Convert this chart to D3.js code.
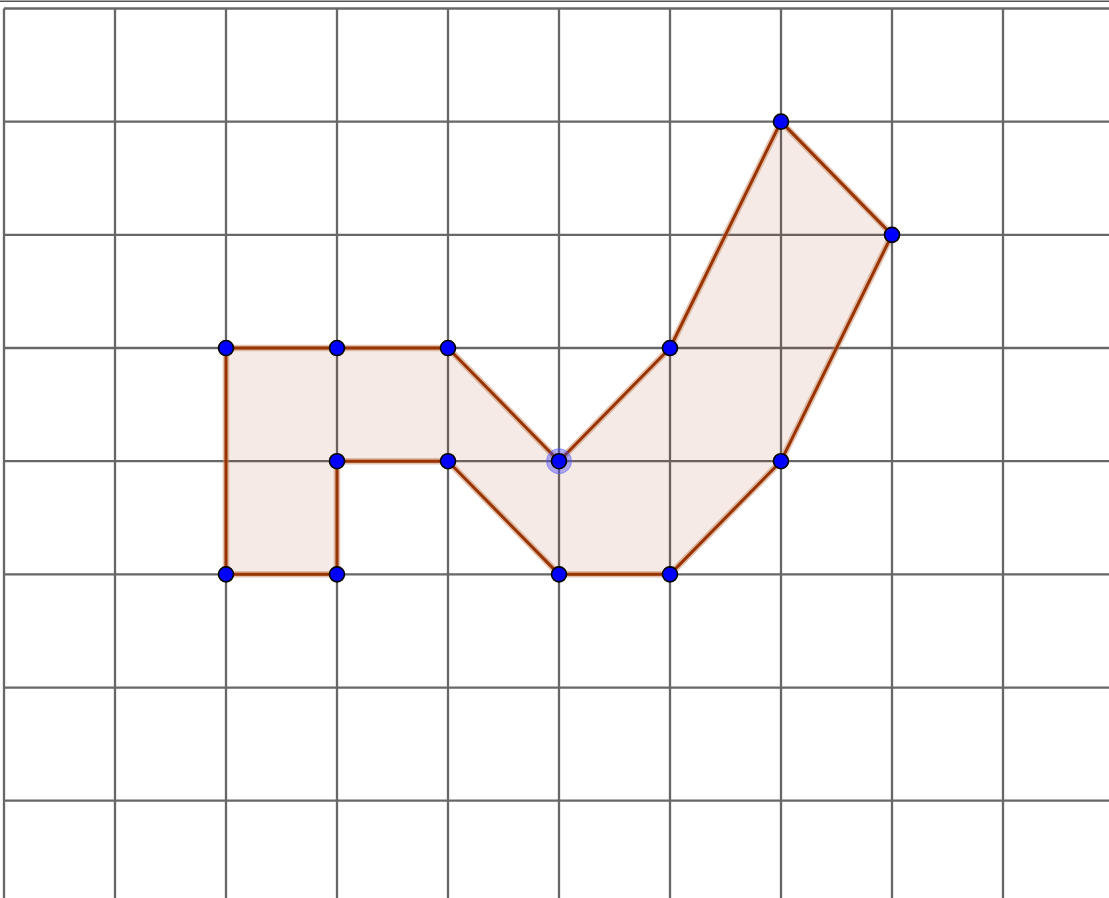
<!DOCTYPE html>
<html>
<head>
<meta charset="utf-8">
<script src="https://cdn.jsdelivr.net/npm/d3@7"></script>
<style>
html,body{margin:0;padding:0;background:#fff;overflow:hidden;}
svg{display:block;}
</style>
</head>
<body>
<svg id="chart" width="1109" height="898"></svg>
<script>
// Grid tick values (grid units)
const xTicks = [0,1,2,3,4,5,6,7,8,9];
const yTicks = [0,1,2,3,4,5,6,7];
// Polygon vertices (grid units, y up)
const polyX = [2,3,4,5,6,7,8,7,6,5,4,3,3,2];
const polyY = [4,4,4,3,4,6,5,3,2,2,3,3,2,2];
// Highlighted (selected) vertex
const selX = [5];
const selY = [3];

const W = 1109, H = 898;
const svg = d3.select("#chart");
const x = d3.scaleLinear().domain([0,10]).range([4,1114]);
const y = d3.scaleLinear().domain([0,7]).range([800.7,8.5]);

svg.append("rect").attr("width",W).attr("height",H).attr("fill","#fff");

// top frame line
svg.append("line").attr("x1",0).attr("x2",W).attr("y1",1.2).attr("y2",1.2)
  .attr("stroke","#555").attr("stroke-width",1.6);

const grid = svg.append("g").attr("stroke","#676767").attr("stroke-width",2.3);
grid.selectAll("line.v").data(xTicks).join("line").attr("class","v")
  .attr("x1",d=>x(d)).attr("x2",d=>x(d)).attr("y1",y(7)).attr("y2",H);
grid.selectAll("line.h").data(yTicks).join("line").attr("class","h")
  .attr("x1",x(0)).attr("x2",W).attr("y1",d=>y(d)).attr("y2",d=>y(d));

const pts = polyX.map((d,i)=>[x(d), y(polyY[i])]);
const line = d3.line().curve(d3.curveLinearClosed);

svg.append("path").attr("d",line(pts)).attr("fill","#993300").attr("fill-opacity",0.1)
  .attr("stroke","none");
svg.append("path").attr("d",line(pts)).attr("fill","none")
  .attr("stroke","#c8875f").attr("stroke-opacity",0.5).attr("stroke-width",6.5).attr("stroke-linejoin","round");
svg.append("path").attr("d",line(pts)).attr("fill","none")
  .attr("stroke","#993300").attr("stroke-width",3).attr("stroke-linejoin","round");

// selection halo
svg.selectAll("circle.halo").data(selX).join("circle").attr("class","halo")
  .attr("cx",d=>x(d)).attr("cy",(d,i)=>y(selY[i])).attr("r",12.5)
  .attr("fill","#4040ff").attr("fill-opacity",0.4).attr("stroke","#6666ff").attr("stroke-opacity",0.6);

svg.selectAll("circle.pt").data(pts).join("circle").attr("class","pt")
  .attr("cx",d=>d[0]).attr("cy",d=>d[1]).attr("r",7.5)
  .attr("fill","#0000ff").attr("stroke","#000").attr("stroke-width",1.6);
</script>
</body>
</html>
